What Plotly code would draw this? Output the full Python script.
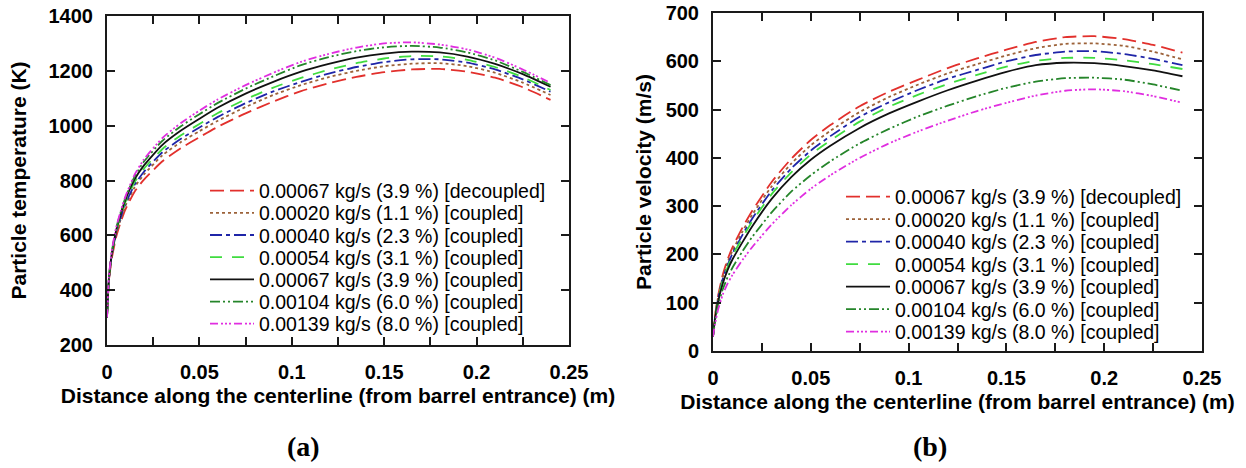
import plotly.graph_objects as go

# ---------------- data ----------------
dist = [0, 0.001, 0.0025, 0.005, 0.0075, 0.01, 0.015, 0.02, 0.03, 0.04, 0.05, 0.06,
        0.075, 0.09, 0.105, 0.12, 0.135, 0.15, 0.165, 0.18, 0.195, 0.21, 0.225, 0.24]

series_names = [
    "0.00067 kg/s (3.9 %) [decoupled]",
    "0.00020 kg/s (1.1 %) [coupled]",
    "0.00040 kg/s (2.3 %) [coupled]",
    "0.00054 kg/s (3.1 %) [coupled]",
    "0.00067 kg/s (3.9 %) [coupled]",
    "0.00104 kg/s (6.0 %) [coupled]",
    "0.00139 kg/s (8.0 %) [coupled]",
]

# Particle temperature (K)
temp_decoupled_067 = [300, 430, 512, 595, 650, 695, 760, 803, 870, 918, 958, 996, 1045, 1088, 1126, 1155, 1178, 1195, 1205, 1207, 1197, 1175, 1140, 1094]
temp_coupled_020 = [300, 434, 520, 605, 661, 708, 776, 822, 892, 940, 980, 1018, 1068, 1112, 1148, 1177, 1200, 1217, 1226, 1228, 1217, 1193, 1157, 1112]
temp_coupled_040 = [300, 436, 524, 610, 667, 715, 785, 832, 903, 952, 993, 1032, 1082, 1125, 1160, 1190, 1214, 1232, 1242, 1242, 1230, 1205, 1169, 1124]
temp_coupled_054 = [300, 438, 527, 615, 673, 722, 795, 843, 915, 965, 1006, 1046, 1096, 1139, 1174, 1204, 1228, 1245, 1254, 1253, 1240, 1214, 1177, 1130]
temp_coupled_067 = [300, 440, 530, 620, 680, 730, 805, 855, 930, 982, 1025, 1066, 1117, 1160, 1197, 1225, 1248, 1263, 1270, 1267, 1252, 1225, 1188, 1142]
temp_coupled_104 = [300, 442, 536, 626, 686, 738, 815, 869, 945, 998, 1042, 1083, 1135, 1180, 1221, 1250, 1272, 1286, 1291, 1285, 1267, 1238, 1196, 1148]
temp_coupled_139 = [300, 445, 540, 630, 690, 742, 822, 877, 955, 1010, 1055, 1096, 1148, 1193, 1233, 1262, 1285, 1300, 1304, 1296, 1278, 1248, 1205, 1156]

# Particle velocity (m/s)
vel_decoupled_067 = [30, 72, 112, 158, 190, 215, 255, 290, 350, 398, 437, 468, 507, 537, 562, 586, 606, 624, 640, 650, 652, 646, 634, 618]
vel_coupled_020 = [30, 70, 109, 153, 184, 208, 247, 282, 341, 388, 426, 456, 495, 526, 552, 575, 594, 612, 627, 636, 637, 632, 620, 604]
vel_coupled_040 = [30, 68, 106, 149, 178, 202, 240, 274, 332, 378, 415, 445, 485, 515, 541, 564, 582, 600, 613, 620, 621, 615, 605, 592]
vel_coupled_054 = [30, 67, 104, 146, 174, 198, 234, 268, 325, 370, 407, 436, 475, 506, 531, 553, 572, 589, 601, 607, 607, 602, 594, 584]
vel_coupled_067 = [30, 65, 100, 140, 168, 190, 225, 258, 315, 360, 396, 425, 462, 492, 517, 540, 560, 578, 592, 597, 596, 590, 581, 569]
vel_coupled_104 = [30, 60, 92, 128, 153, 173, 206, 236, 287, 330, 364, 393, 430, 460, 486, 508, 528, 545, 558, 565, 566, 562, 552, 539]
vel_coupled_139 = [30, 55, 84, 117, 140, 158, 188, 215, 262, 302, 336, 364, 400, 430, 455, 477, 497, 514, 529, 539, 542, 538, 528, 514]

x_tick_vals = [0, 0.05, 0.1, 0.15, 0.2, 0.25]
x_tick_text = ["0", "0.05", "0.1", "0.15", "0.2", "0.25"]
temp_tick_vals = [200, 400, 600, 800, 1000, 1200, 1400]
vel_tick_vals = [0, 100, 200, 300, 400, 500, 600, 700]

temps = [temp_decoupled_067, temp_coupled_020, temp_coupled_040, temp_coupled_054,
         temp_coupled_067, temp_coupled_104, temp_coupled_139]
vels = [vel_decoupled_067, vel_coupled_020, vel_coupled_040, vel_coupled_054,
        vel_coupled_067, vel_coupled_104, vel_coupled_139]

# ---------------- styles ----------------
colors = ["#e2302c", "#9c6239", "#1f25a8", "#3fdc3f", "#111111", "#25852a", "#e02ee0"]
dashes = ["14px,6px", "3px,3px", "12px,4px,4px,4px", "12px,10px", "solid",
          "10px,3px,2px,3px,2px,3px", "8px,3px,2px,2px,2px,2px,2px,3px"]

W, H = 1246, 468
FONT = "Liberation Sans"
LEG_FONT = dict(family=FONT, size=19.5, color="black")

fig = go.Figure()
for i, name in enumerate(series_names):
    fig.add_trace(go.Scatter(
        x=dist, y=temps[i], name=name, mode="lines", showlegend=True,
        line=dict(color=colors[i], dash=dashes[i], width=1.8, shape="spline", smoothing=0.6),
        xaxis="x", yaxis="y", legend="legend" if i == 0 else f"legend{i + 1}"))
for i, name in enumerate(series_names):
    fig.add_trace(go.Scatter(
        x=dist, y=vels[i], name=name, mode="lines", showlegend=True,
        line=dict(color=colors[i], dash=dashes[i], width=1.8, shape="spline", smoothing=0.6),
        xaxis="x2", yaxis="y2", legend=f"legend{i + 8}"))

axis_common = dict(
    showline=True, linecolor="#1a1a1a", linewidth=2, mirror="ticks",
    ticks="inside", ticklen=8, tickwidth=1.5, tickcolor="#1a1a1a",
    showgrid=False, zeroline=False, automargin=False,
    tickfont=dict(family=FONT, size=20, color="black", weight="bold"),
)

xtitle = "<b>Distance along the centerline (from barrel entrance) (m)</b>"
TITLE_FONT = dict(family=FONT, size=21, color="black")

layout = dict(
    width=W, height=H,
    margin=dict(l=0, r=0, t=0, b=0),
    paper_bgcolor="white", plot_bgcolor="white",
    showlegend=True,
    font=dict(family=FONT, color="black"),
    xaxis=dict(domain=[107 / W, 569 / W], range=[0, 0.25], anchor="y",
               tickvals=x_tick_vals, ticktext=x_tick_text, ticklabelstandoff=8,
               minor=dict(dtick=0.025, ticks="inside", ticklen=8, tickcolor="#1a1a1a", showgrid=False),
               title=dict(text=xtitle, font=TITLE_FONT, standoff=6),
               **axis_common),
    yaxis=dict(domain=[1 - 345 / H, 1 - 16 / H], range=[200, 1400], anchor="x",
               tickvals=temp_tick_vals, ticklabelstandoff=8,
               title=dict(text="<b>Particle temperature (K)</b>", font=TITLE_FONT, standoff=16),
               **axis_common),
    xaxis2=dict(domain=[713 / W, 1202 / W], range=[0, 0.25], anchor="y2",
                tickvals=x_tick_vals, ticktext=x_tick_text, ticklabelstandoff=8,
                minor=dict(dtick=0.025, ticks="inside", ticklen=8, tickcolor="#1a1a1a", showgrid=False),
                title=dict(text=xtitle, font=TITLE_FONT, standoff=6),
                **axis_common),
    yaxis2=dict(domain=[1 - 351 / H, 1 - 13 / H], range=[0, 700], anchor="x2",
                tickvals=vel_tick_vals, ticklabelstandoff=8,
                title=dict(text="<b>Particle velocity (m/s)</b>", font=TITLE_FONT, standoff=8),
                **axis_common),
    annotations=[
        dict(text="<b>(a)</b>", x=303 / W, y=1 - 446 / H, xref="paper", yref="paper",
             xanchor="center", yanchor="middle",
             showarrow=False, font=dict(family="Liberation Serif", size=28, color="black")),
        dict(text="<b>(b)</b>", x=930 / W, y=1 - 446 / H, xref="paper", yref="paper",
             xanchor="center", yanchor="middle",
             showarrow=False, font=dict(family="Liberation Serif", size=28, color="black")),
    ],
)

# one single-entry legend per curve so the rows can sit at the reference spacing
for i in range(7):
    key_a = "legend" if i == 0 else f"legend{i + 1}"
    key_b = f"legend{i + 8}"
    layout[key_a] = dict(x=205 / W, y=1 - (191 + 22.17 * i) / H, xanchor="left", yanchor="middle",
                         bgcolor="rgba(0,0,0,0)", font=LEG_FONT, itemwidth=44, visible=True)
    layout[key_b] = dict(x=841 / W, y=1 - (197 + 22.5 * i) / H, xanchor="left", yanchor="middle",
                         bgcolor="rgba(0,0,0,0)", font=LEG_FONT, itemwidth=44, visible=True)

fig.update_layout(**layout)
fig.write_html("out.html")
